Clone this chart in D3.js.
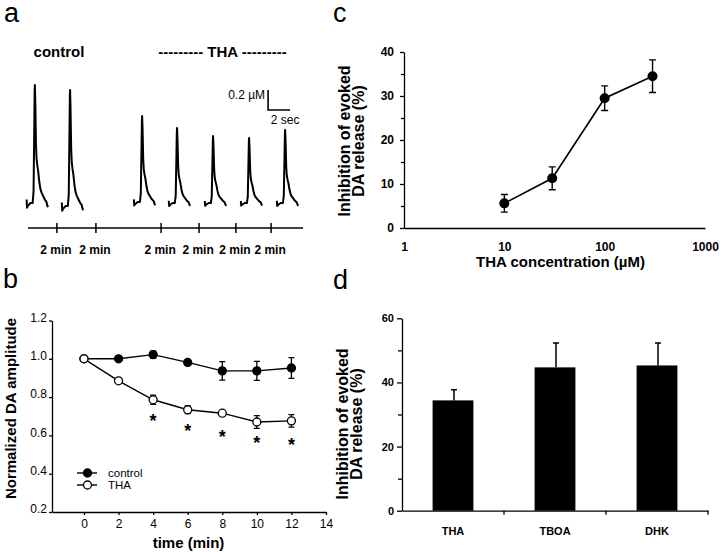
<!DOCTYPE html>
<html><head><meta charset="utf-8">
<script src="https://cdn.jsdelivr.net/npm/d3@7"></script>
<style>body{margin:0;background:#fff} svg{display:block}</style>
</head><body><svg id="fig" width="720" height="552"></svg>
<script>
// ================= DATA =================
// Panel a: voltammetric traces (peak amplitude, µM) on a schematic timeline
const traceNames = ["control 1", "control 2", "THA 1", "THA 2", "THA 3", "THA 4", "THA 5"];
const traceAmplitudes = [1.18, 1.16, 0.86, 0.75, 0.67, 0.65, 0.73];
const traceBaselines = [0, -0.03, 0.01, 0, 0, 0, 0];
const tracePositions = [2.5, 15.3, 41.5, 54.2, 67.3, 80.4, 93.5];        // schematic units
const timelineTicks = [10.5, 24.7, 48.4, 62.2, 75.6, 88.4];             // schematic units
const timelineLabels = ["2 min", "2 min", "2 min", "2 min", "2 min", "2 min"];
// normalised waveform template (time in s relative to peak)
const waveTime  = [-0.75, -0.72, -0.6, -0.4, -0.2, -0.12, -0.06, -0.02, 0, 0.04, 0.1, 0.15, 0.22, 0.3, 0.4, 0.5, 0.6, 0.75, 0.9, 1.05, 1.15, 1.2];
const waveShape = [0.03, -0.04, -0.02, 0.0, 0.0, 0.1, 0.6, 0.95, 1.0, 0.85, 0.5, 0.38, 0.32, 0.27, 0.18, 0.12, 0.09, 0.06, 0.03, 0.01, -0.03, -0.02];
const scaleBarPos = 87.3, scaleBarBase = 0.93, scaleBarConc = 0.2, scaleBarSec = 2;

// Panel b: normalized DA amplitude vs time
const timeMin = [0, 2, 4, 6, 8, 10, 12];
const controlVals = [1.0, 1.0, 1.022, 0.981, 0.937, 0.937, 0.952];
const controlErr  = [0, 0.006, 0.018, 0.012, 0.048, 0.05, 0.054];
const thaVals = [1.0, 0.885, 0.786, 0.734, 0.716, 0.670, 0.676];
const thaErr  = [0, 0.008, 0.024, 0.02, 0.012, 0.033, 0.033];
const starTimes = [4, 6, 8, 10, 12];
const starLevels = [0.696, 0.643, 0.612, 0.581, 0.573];
const bXTicks = [0, 2, 4, 6, 8, 10, 12, 14];
const bYTicks = [0.2, 0.4, 0.6, 0.8, 1.0, 1.2];

// Panel c: concentration response
const thaConc = [10, 30, 100, 300];
const inhibition = [5.6, 11.3, 29.5, 34.5];
const inhibitionErr = [2.0, 2.6, 2.8, 3.7];
const cXTicks = [1, 10, 100, 1000];
const cYMajor = [0, 10, 20, 30, 40];
const cYMinor = [5, 15, 25, 35];

// Panel d: bar chart
const agents = ["THA", "TBOA", "DHK"];
const agentInhibition = [34.4, 44.7, 45.3];
const agentErr = [3.3, 7.6, 7.0];
const dYMajor = [0, 20, 40, 60];
const dYMinor = [10, 30, 50];

// ================= DRAW =================
const FONT = "'Liberation Sans', Arial, Helvetica, sans-serif";
const svg = d3.select("#fig").style("font-family", FONT);
svg.append("rect").attr("width", 720).attr("height", 552).attr("fill", "#fff");

function styleAxis(g, fs, bold) {
  g.selectAll("path.domain").attr("stroke", "#000").attr("stroke-width", 1.3);
  g.selectAll(".tick line").attr("stroke", "#000").attr("stroke-width", 1.3);
  g.selectAll("text").attr("fill", "#000").style("font-family", FONT)
    .style("font-size", fs + "px").style("font-weight", bold ? "bold" : "normal");
}

// panel letters
[["a", 4, 22], ["b", 3, 288], ["c", 333, 22], ["d", 333, 289]].forEach(([t, x, y]) =>
  svg.append("text").attr("x", x).attr("y", y).text(t)
    .style("font-size", "27px").style("font-family", FONT));

// ---------- Panel a ----------
const gA = svg.append("g");
const xA = d3.scaleLinear().domain([0, 100]).range([28, 303]);
const yA = d3.scaleLinear().domain([0, 1.2]).range([203, 83]);
const sA = d3.scaleLinear().domain([0, 1]).range([0, 11]);
const line = d3.line();

traceAmplitudes.forEach((amp, i) => {
  const pts = waveTime.map((t, k) => [xA(tracePositions[i]) + sA(t), yA(traceBaselines[i] + amp * waveShape[k])]);
  gA.append("path").attr("d", line(pts)).attr("fill", "none").attr("stroke", "#000")
    .attr("stroke-width", 2).attr("stroke-linejoin", "round");
});

const tlY = 228;
gA.append("line").attr("x1", xA(0)).attr("x2", xA(100)).attr("y1", tlY).attr("y2", tlY)
  .attr("stroke", "#000").attr("stroke-width", 1.5);
timelineTicks.forEach((t, i) => {
  gA.append("line").attr("x1", xA(t)).attr("x2", xA(t)).attr("y1", tlY - 5).attr("y2", tlY + 5)
    .attr("stroke", "#000").attr("stroke-width", 1.5);
  gA.append("text").attr("x", xA(t) - 1).attr("y", 254).attr("text-anchor", "middle")
    .style("font-size", "12px").style("font-weight", "bold").text(timelineLabels[i]);
});
gA.append("text").attr("x", 59).attr("y", 57).attr("text-anchor", "middle")
  .style("font-size", "15px").style("font-weight", "bold").text("control");
gA.append("text").attr("x", 222.5).attr("y", 57).attr("text-anchor", "middle")
  .style("font-size", "15px").style("font-weight", "bold").text("--------- THA ---------");

// scale bar
const sbx = xA(scaleBarPos), sby = yA(scaleBarBase);
gA.append("path")
  .attr("d", `M${sbx},${yA(scaleBarBase + scaleBarConc)}V${sby}H${sbx + sA(scaleBarSec)}`)
  .attr("fill", "none").attr("stroke", "#000").attr("stroke-width", 1.6);
gA.append("text").attr("x", sbx - 3).attr("y", yA(scaleBarBase + scaleBarConc * 0.75) + 4)
  .attr("text-anchor", "end").style("font-size", "12px").text("0.2 µM");
gA.append("text").attr("x", sbx + sA(scaleBarSec / 2) + 6).attr("y", sby + 14)
  .attr("text-anchor", "middle").style("font-size", "12px").text("2 sec");

// ---------- Panel b ----------
const gB = svg.append("g");
const xB = d3.scaleLinear().domain([-1.85, 14]).range([52, 326]);
const yB = d3.scaleLinear().domain([0.2, 1.2]).range([512, 320.5]);
const axYB = gB.append("g").attr("transform", `translate(${xB(-1.85)},0)`)
  .call(d3.axisLeft(yB).tickValues(bYTicks).tickFormat(d3.format(".1f")).tickSize(3).tickPadding(2).tickSizeOuter(0));
styleAxis(axYB, 12, false);
axYB.selectAll("text").attr("dy", "0.05em");
const axXB = gB.append("g").attr("transform", `translate(0,${yB(0.2)})`)
  .call(d3.axisBottom(xB).tickValues(bXTicks).tickSize(3).tickPadding(4).tickSizeOuter(0));
styleAxis(axXB, 12, false);

function series(g, vals, errs, filled, r) {
  g.append("path").attr("d", line(timeMin.map((t, i) => [xB(t), yB(vals[i])])))
    .attr("fill", "none").attr("stroke", "#000").attr("stroke-width", 1.4);
  timeMin.forEach((t, i) => {
    if (errs[i] > 0) {
      const x = xB(t), y1 = yB(vals[i] - errs[i]), y2 = yB(vals[i] + errs[i]);
      g.append("path").attr("d", `M${x},${y1}V${y2}M${x - 3},${y1}H${x + 3}M${x - 3},${y2}H${x + 3}`)
        .attr("stroke", "#000").attr("stroke-width", 1.3).attr("fill", "none");
    }
  });
  timeMin.forEach((t, i) => g.append("circle").attr("cx", xB(t)).attr("cy", yB(vals[i])).attr("r", r)
    .attr("fill", filled ? "#000" : "#fff").attr("stroke", "#000").attr("stroke-width", 1.3));
}
series(gB, controlVals, controlErr, true, 4);
series(gB, thaVals, thaErr, false, 4);
starTimes.forEach((t, i) => gB.append("text").attr("x", xB(t)).attr("y", yB(starLevels[i]) + 10)
  .attr("text-anchor", "middle").style("font-size", "18px").style("font-weight", "bold").text("*"));

// legend
[["control", true, 473], ["THA", false, 485]].forEach(([lab, filled, y]) => {
  gB.append("line").attr("x1", 77).attr("x2", 97).attr("y1", y).attr("y2", y).attr("stroke", "#000").attr("stroke-width", 1.4);
  gB.append("circle").attr("cx", 87.5).attr("cy", y).attr("r", 4).attr("fill", filled ? "#000" : "#fff")
    .attr("stroke", "#000").attr("stroke-width", 1.3);
  gB.append("text").attr("x", 108).attr("y", y + 4).style("font-size", "11.5px").text(lab);
});
gB.append("text").attr("x", 188.5).attr("y", 548).attr("text-anchor", "middle")
  .style("font-size", "15px").style("font-weight", "bold").text("time (min)");
gB.append("text").attr("transform", "translate(16,408.5) rotate(-90)").attr("text-anchor", "middle")
  .style("font-size", "15px").style("font-weight", "bold").text("Normalized DA amplitude");

// ---------- Panel c ----------
const gC = svg.append("g");
const xC = d3.scaleLog().domain([1, 1000]).range([404, 705]);
const yC = d3.scaleLinear().domain([0, 40]).range([228, 52]);
const axYC = gC.append("g").attr("transform", `translate(${xC(1)},0)`)
  .call(d3.axisLeft(yC).tickValues(cYMajor).tickSize(4).tickPadding(6).tickSizeOuter(0));
styleAxis(axYC, 12, true);
const axYCm = gC.append("g").attr("transform", `translate(${xC(1)},0)`)
  .call(d3.axisLeft(yC).tickValues(cYMinor).tickSize(3).tickFormat(""));
axYCm.select("path.domain").remove();
styleAxis(axYCm, 12, true);
const axXC = gC.append("g").attr("transform", `translate(0,${yC(0)})`)
  .call(d3.axisBottom(xC).tickValues(cXTicks).tickFormat(d3.format("d")).tickSize(0).tickPadding(14).tickSizeOuter(0));
styleAxis(axXC, 12, true);

gC.append("path").attr("d", line(thaConc.map((c, i) => [xC(c), yC(inhibition[i])])))
  .attr("fill", "none").attr("stroke", "#000").attr("stroke-width", 1.6);
thaConc.forEach((c, i) => {
  const x = xC(c), y1 = yC(inhibition[i] - inhibitionErr[i]), y2 = yC(inhibition[i] + inhibitionErr[i]);
  gC.append("path").attr("d", `M${x},${y1}V${y2}M${x - 3.5},${y1}H${x + 3.5}M${x - 3.5},${y2}H${x + 3.5}`)
    .attr("stroke", "#000").attr("stroke-width", 1.4).attr("fill", "none");
  gC.append("circle").attr("cx", x).attr("cy", yC(inhibition[i])).attr("r", 5).attr("fill", "#000");
});
gC.append("text").attr("x", 560.5).attr("y", 267).attr("text-anchor", "middle")
  .style("font-size", "15px").style("font-weight", "bold").text("THA concentration (µM)");
const ylc = gC.append("text").attr("transform", "translate(350,141) rotate(-90)").attr("text-anchor", "middle")
  .style("font-size", "16px").style("font-weight", "bold");
ylc.append("tspan").attr("x", 0).attr("y", 0).text("Inhibition of evoked");
ylc.append("tspan").attr("x", 0).attr("y", 14).text("DA release (%)");

// ---------- Panel d ----------
const gD = svg.append("g");
const xD = d3.scaleBand().domain(agents).range([402, 708]).paddingInner(0.6).paddingOuter(0.3);
const yD = d3.scaleLinear().domain([0, 60]).range([510.7, 318.3]);
const axYD = gD.append("g").attr("transform", `translate(${xD.range()[0]},0)`)
  .call(d3.axisLeft(yD).tickValues(dYMajor).tickSize(5).tickPadding(3).tickSizeOuter(0));
styleAxis(axYD, 11, true);
const axYDm = gD.append("g").attr("transform", `translate(${xD.range()[0]},0)`)
  .call(d3.axisLeft(yD).tickValues(dYMinor).tickSize(4).tickFormat(""));
axYDm.select("path.domain").remove();
styleAxis(axYDm, 11, true);
const axXD = gD.append("g").attr("transform", `translate(0,${yD(0)})`)
  .call(d3.axisBottom(xD).tickSize(0).tickPadding(17).tickSizeOuter(0));
styleAxis(axXD, 11, true);
agents.forEach(a => {
  const bx = xD(a) + xD.bandwidth() + (xD.step() - xD.bandwidth()) / 2;
  gD.append("line").attr("x1", bx).attr("x2", bx).attr("y1", yD(0)).attr("y2", yD(0) + 4)
    .attr("stroke", "#000").attr("stroke-width", 1.3);
});
agents.forEach((a, i) => {
  gD.append("rect").attr("x", xD(a)).attr("y", yD(agentInhibition[i])).attr("width", xD.bandwidth())
    .attr("height", yD(0) - yD(agentInhibition[i])).attr("fill", "#000");
  const cx = xD(a) + xD.bandwidth() / 2 + 1, yt = yD(agentInhibition[i] + agentErr[i]);
  gD.append("path").attr("d", `M${cx},${yD(agentInhibition[i])}V${yt}M${cx - 3},${yt}H${cx + 3}`)
    .attr("stroke", "#000").attr("stroke-width", 1.5).attr("fill", "none");
});
const yld = gD.append("text").attr("transform", "translate(348,424) rotate(-90)").attr("text-anchor", "middle")
  .style("font-size", "16px").style("font-weight", "bold");
yld.append("tspan").attr("x", 0).attr("y", 0).text("Inhibition of evoked");
yld.append("tspan").attr("x", 0).attr("y", 14).text("DA release (%)");
</script></body></html>
